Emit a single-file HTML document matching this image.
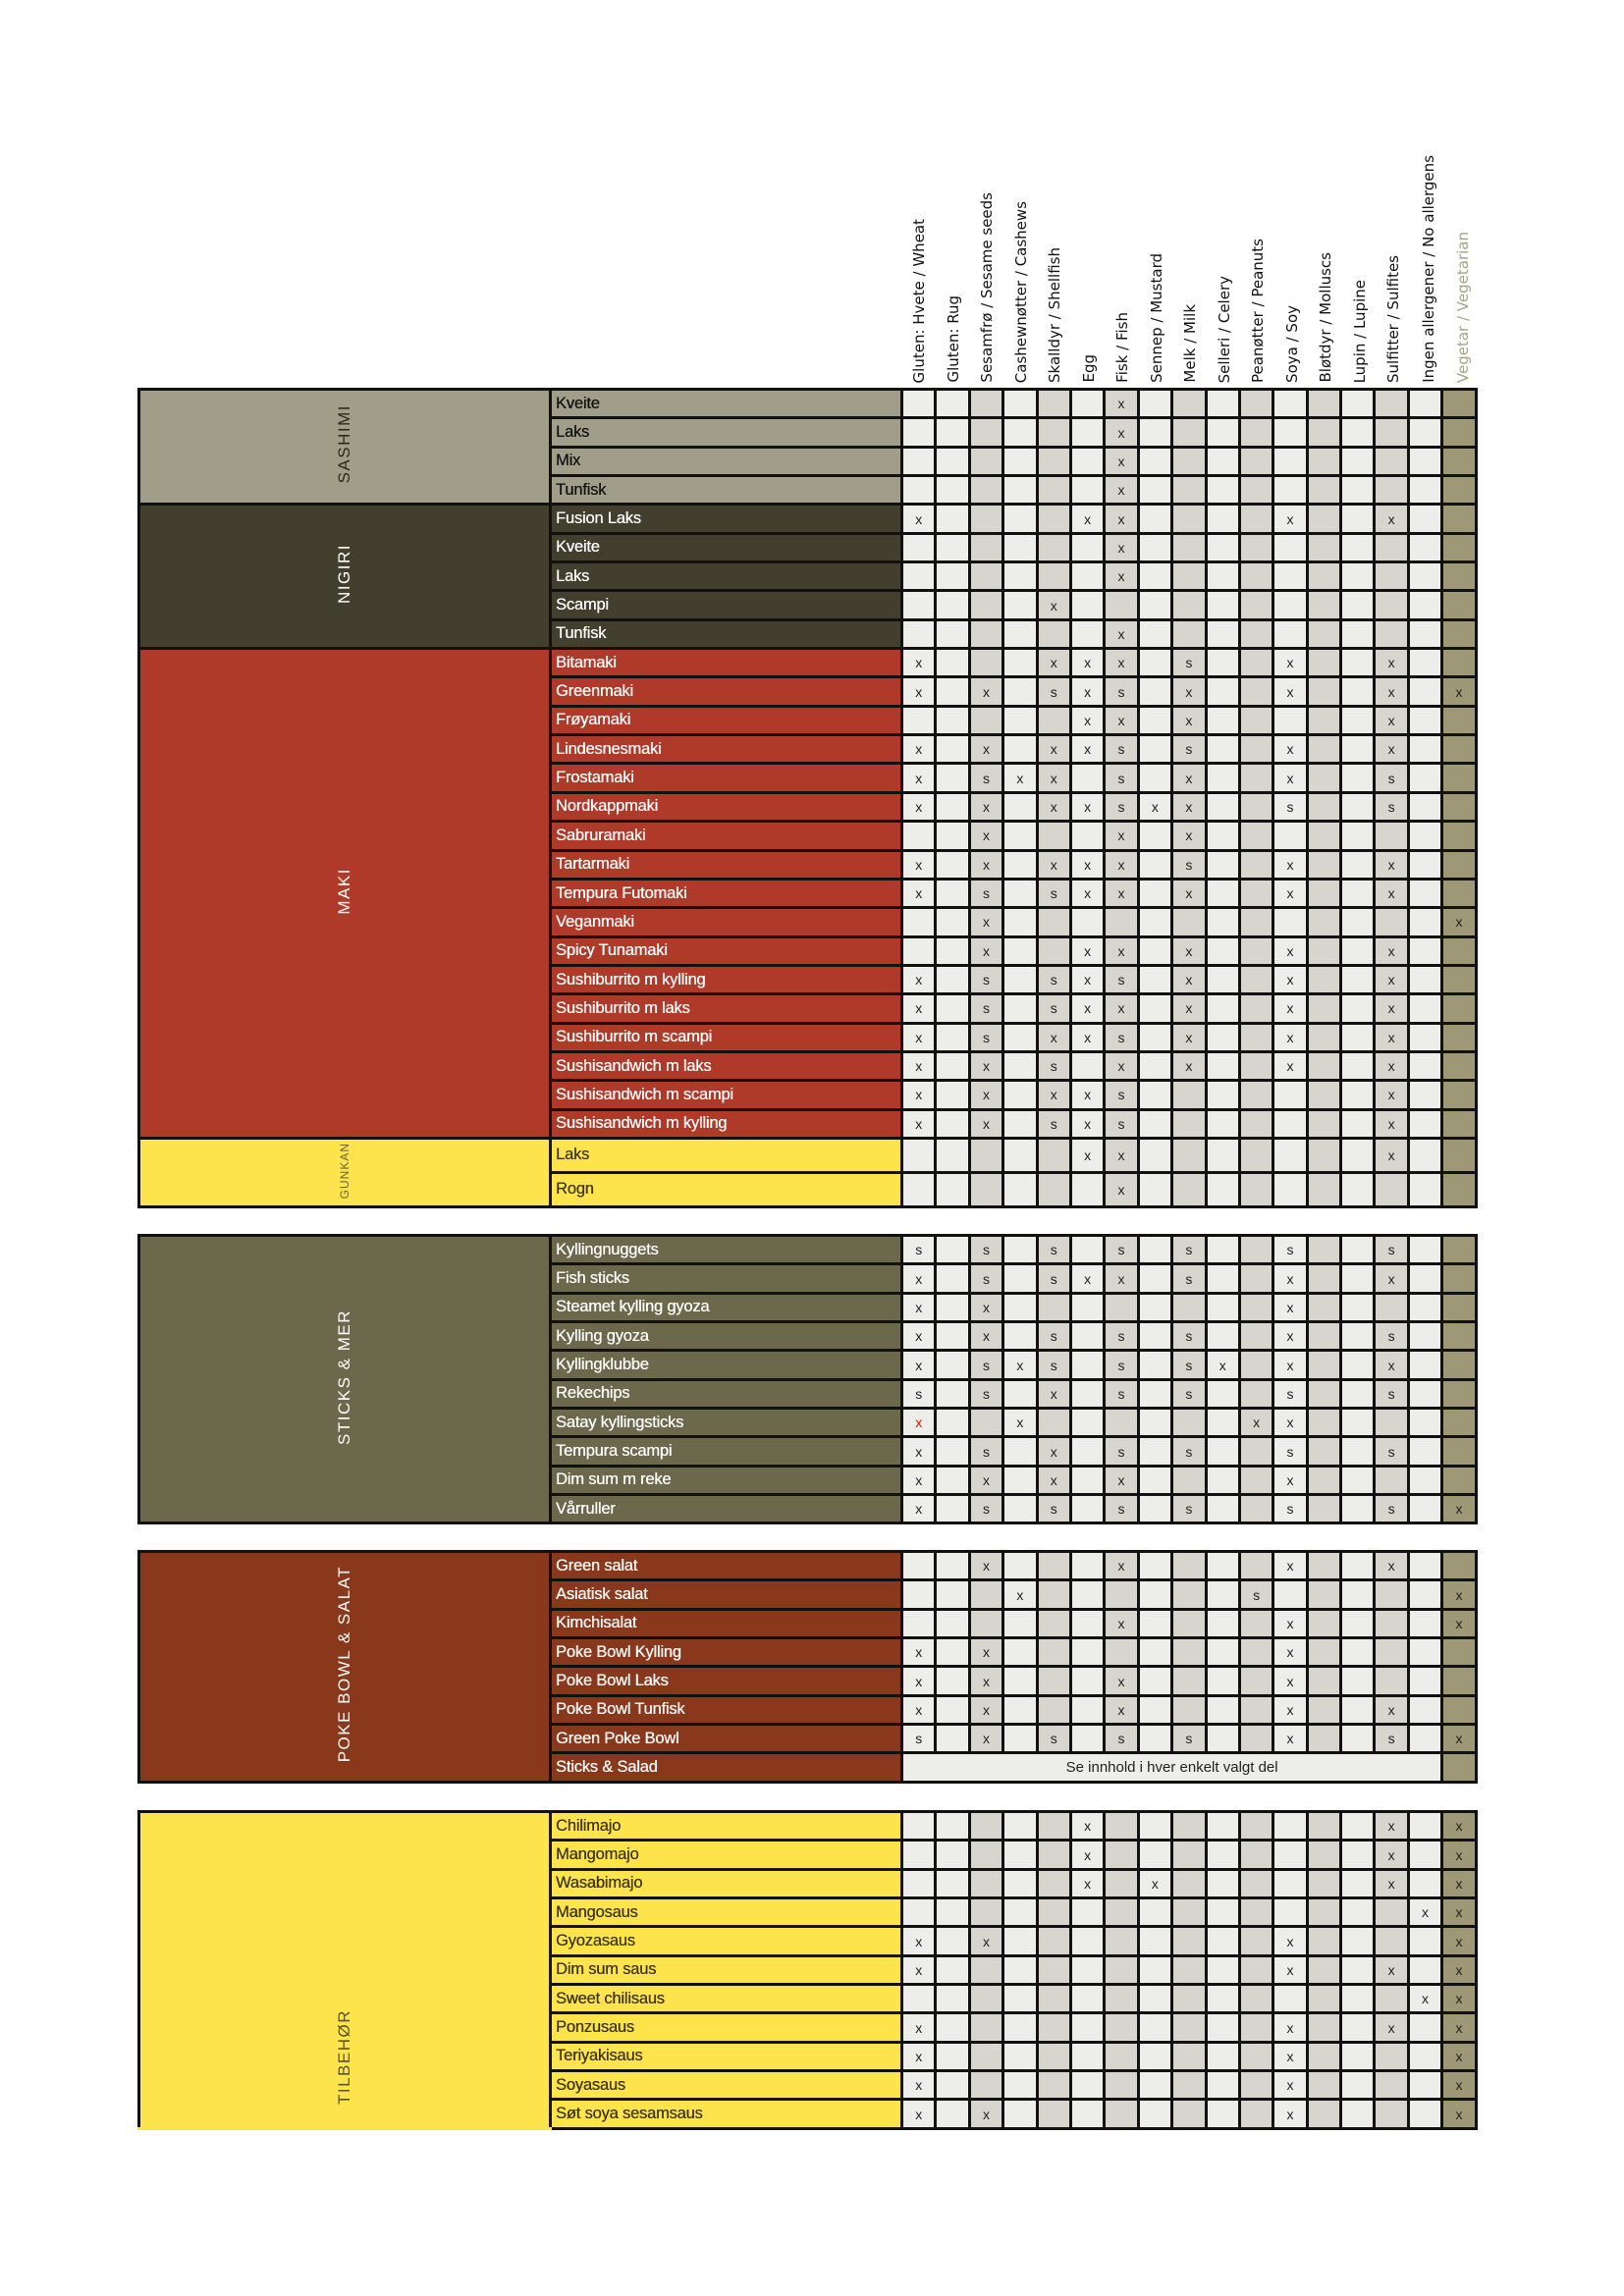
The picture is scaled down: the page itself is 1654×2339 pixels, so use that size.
<!DOCTYPE html>
<html><head><meta charset="utf-8"><style>
html,body{margin:0;padding:0;background:#fff;width:1654px;height:2339px;overflow:hidden;position:relative;font-family:"Liberation Sans",sans-serif}
table{position:absolute;left:140px;width:1361px;border-collapse:collapse;table-layout:fixed;border:3px solid #111}
td{border:3px solid #111;padding:0;text-align:center;font-size:14px;color:#222;overflow:hidden;white-space:nowrap}
tr{height:29.35px}
tr.g{height:35px}
col.l{background:#ededea}col.d{background:#d7d5cd}col.v{background:#9e9876}
td.n{text-align:left;padding-left:4px;font-size:16.5px;letter-spacing:-0.2px;color:#fff;text-shadow:0.3px 0 0 currentColor}
td.c{vertical-align:middle;color:#fff;font-size:17px;letter-spacing:1.5px}
td.c span{writing-mode:vertical-rl;transform:rotate(180deg);display:inline-block}
.sa{background:#a09d89}.ni{background:#433f2f}.ma{background:#b03a29}.gu{background:#fee44c}.st{background:#6b684b}.po{background:#8a381c}.ti{background:#fee44c}
td.n.gu,td.n.ti{color:#3b3512}
.h{position:absolute;bottom:1949px;writing-mode:vertical-rl;transform:rotate(180deg);font-family:"DejaVu Sans",sans-serif;font-size:15px;color:#111;white-space:nowrap}
.r{color:#e01010}
</style></head><body>
<div class="h" style="left:927px">Gluten: Hvete / Wheat</div>
<div class="h" style="left:962px">Gluten: Rug</div>
<div class="h" style="left:996px">Sesamfrø / Sesame seeds</div>
<div class="h" style="left:1031px">Cashewnøtter / Cashews</div>
<div class="h" style="left:1065px">Skalldyr / Shellfish</div>
<div class="h" style="left:1100px">Egg</div>
<div class="h" style="left:1134px">Fisk / Fish</div>
<div class="h" style="left:1169px">Sennep / Mustard</div>
<div class="h" style="left:1203px">Melk / Milk</div>
<div class="h" style="left:1238px">Selleri / Celery</div>
<div class="h" style="left:1272px">Peanøtter / Peanuts</div>
<div class="h" style="left:1307px">Soya / Soy</div>
<div class="h" style="left:1341px">Bløtdyr / Molluscs</div>
<div class="h" style="left:1376px">Lupin / Lupine</div>
<div class="h" style="left:1410px">Sulfitter / Sulfites</div>
<div class="h" style="left:1446px">Ingen allergener / No allergens</div>
<div class="h" style="left:1481px;color:#a8a285">Vegetar / Vegetarian</div>

<table style="top:395px">
<colgroup><col style="width:419px"><col style="width:358px"><col class="l" style="width:34.4px"><col class="l" style="width:34.4px"><col class="d" style="width:34.4px"><col class="l" style="width:34.4px"><col class="d" style="width:34.4px"><col class="l" style="width:34.4px"><col class="d" style="width:34.4px"><col class="l" style="width:34.4px"><col class="d" style="width:34.4px"><col class="l" style="width:34.4px"><col class="d" style="width:34.4px"><col class="l" style="width:34.4px"><col class="d" style="width:34.4px"><col class="l" style="width:34.4px"><col class="d" style="width:34.4px"><col class="l" style="width:34.4px"><col class="v" style="width:34.4px"></colgroup>
<tr><td class="c sa" rowspan="4" style="color:#2a2a20"><span>SASHIMI</span></td><td class="n sa" style="color:#111">Kveite<td><td><td><td><td><td><td>x<td><td><td><td><td><td><td><td><td><td></tr>
<tr><td class="n sa" style="color:#111">Laks<td><td><td><td><td><td><td>x<td><td><td><td><td><td><td><td><td><td></tr>
<tr><td class="n sa" style="color:#111">Mix<td><td><td><td><td><td><td>x<td><td><td><td><td><td><td><td><td><td></tr>
<tr><td class="n sa" style="color:#111">Tunfisk<td><td><td><td><td><td><td>x<td><td><td><td><td><td><td><td><td><td></tr>
<tr><td class="c ni" rowspan="5"><span>NIGIRI</span></td><td class="n ni">Fusion Laks<td>x<td><td><td><td><td>x<td>x<td><td><td><td><td>x<td><td><td>x<td><td></tr>
<tr><td class="n ni">Kveite<td><td><td><td><td><td><td>x<td><td><td><td><td><td><td><td><td><td></tr>
<tr><td class="n ni">Laks<td><td><td><td><td><td><td>x<td><td><td><td><td><td><td><td><td><td></tr>
<tr><td class="n ni">Scampi<td><td><td><td><td>x<td><td><td><td><td><td><td><td><td><td><td><td></tr>
<tr><td class="n ni">Tunfisk<td><td><td><td><td><td><td>x<td><td><td><td><td><td><td><td><td><td></tr>
<tr><td class="c ma" rowspan="17"><span>MAKI</span></td><td class="n ma">Bitamaki<td>x<td><td><td><td>x<td>x<td>x<td><td>s<td><td><td>x<td><td><td>x<td><td></tr>
<tr><td class="n ma">Greenmaki<td>x<td><td>x<td><td>s<td>x<td>s<td><td>x<td><td><td>x<td><td><td>x<td><td>x</tr>
<tr><td class="n ma">Frøyamaki<td><td><td><td><td><td>x<td>x<td><td>x<td><td><td><td><td><td>x<td><td></tr>
<tr><td class="n ma">Lindesnesmaki<td>x<td><td>x<td><td>x<td>x<td>s<td><td>s<td><td><td>x<td><td><td>x<td><td></tr>
<tr><td class="n ma">Frostamaki<td>x<td><td>s<td>x<td>x<td><td>s<td><td>x<td><td><td>x<td><td><td>s<td><td></tr>
<tr><td class="n ma">Nordkappmaki<td>x<td><td>x<td><td>x<td>x<td>s<td>x<td>x<td><td><td>s<td><td><td>s<td><td></tr>
<tr><td class="n ma">Sabruramaki<td><td><td>x<td><td><td><td>x<td><td>x<td><td><td><td><td><td><td><td></tr>
<tr><td class="n ma">Tartarmaki<td>x<td><td>x<td><td>x<td>x<td>x<td><td>s<td><td><td>x<td><td><td>x<td><td></tr>
<tr><td class="n ma">Tempura Futomaki<td>x<td><td>s<td><td>s<td>x<td>x<td><td>x<td><td><td>x<td><td><td>x<td><td></tr>
<tr><td class="n ma">Veganmaki<td><td><td>x<td><td><td><td><td><td><td><td><td><td><td><td><td><td>x</tr>
<tr><td class="n ma">Spicy Tunamaki<td><td><td>x<td><td><td>x<td>x<td><td>x<td><td><td>x<td><td><td>x<td><td></tr>
<tr><td class="n ma">Sushiburrito m kylling<td>x<td><td>s<td><td>s<td>x<td>s<td><td>x<td><td><td>x<td><td><td>x<td><td></tr>
<tr><td class="n ma">Sushiburrito m laks<td>x<td><td>s<td><td>s<td>x<td>x<td><td>x<td><td><td>x<td><td><td>x<td><td></tr>
<tr><td class="n ma">Sushiburrito m scampi<td>x<td><td>s<td><td>x<td>x<td>s<td><td>x<td><td><td>x<td><td><td>x<td><td></tr>
<tr><td class="n ma">Sushisandwich m laks<td>x<td><td>x<td><td>s<td><td>x<td><td>x<td><td><td>x<td><td><td>x<td><td></tr>
<tr><td class="n ma">Sushisandwich m scampi<td>x<td><td>x<td><td>x<td>x<td>s<td><td><td><td><td><td><td><td>x<td><td></tr>
<tr><td class="n ma">Sushisandwich m kylling<td>x<td><td>x<td><td>s<td>x<td>s<td><td><td><td><td><td><td><td>x<td><td></tr>
<tr class="g"><td class="c gu" rowspan="2" style="color:#6b6535;font-size:12px;letter-spacing:1px"><span>GUNKAN</span></td><td class="n gu">Laks<td><td><td><td><td><td>x<td>x<td><td><td><td><td><td><td><td>x<td><td></tr>
<tr class="g"><td class="n gu">Rogn<td><td><td><td><td><td><td>x<td><td><td><td><td><td><td><td><td><td></tr>
</table>

<table style="top:1257px">
<colgroup><col style="width:419px"><col style="width:358px"><col class="l" style="width:34.4px"><col class="l" style="width:34.4px"><col class="d" style="width:34.4px"><col class="l" style="width:34.4px"><col class="d" style="width:34.4px"><col class="l" style="width:34.4px"><col class="d" style="width:34.4px"><col class="l" style="width:34.4px"><col class="d" style="width:34.4px"><col class="l" style="width:34.4px"><col class="d" style="width:34.4px"><col class="l" style="width:34.4px"><col class="d" style="width:34.4px"><col class="l" style="width:34.4px"><col class="d" style="width:34.4px"><col class="l" style="width:34.4px"><col class="v" style="width:34.4px"></colgroup>
<tr><td class="c st" rowspan="10"><span>STICKS &amp; MER</span></td><td class="n st">Kyllingnuggets<td>s<td><td>s<td><td>s<td><td>s<td><td>s<td><td><td>s<td><td><td>s<td><td></tr>
<tr><td class="n st">Fish sticks<td>x<td><td>s<td><td>s<td>x<td>x<td><td>s<td><td><td>x<td><td><td>x<td><td></tr>
<tr><td class="n st">Steamet kylling gyoza<td>x<td><td>x<td><td><td><td><td><td><td><td><td>x<td><td><td><td><td></tr>
<tr><td class="n st">Kylling gyoza<td>x<td><td>x<td><td>s<td><td>s<td><td>s<td><td><td>x<td><td><td>s<td><td></tr>
<tr><td class="n st">Kyllingklubbe<td>x<td><td>s<td>x<td>s<td><td>s<td><td>s<td>x<td><td>x<td><td><td>x<td><td></tr>
<tr><td class="n st">Rekechips<td>s<td><td>s<td><td>x<td><td>s<td><td>s<td><td><td>s<td><td><td>s<td><td></tr>
<tr><td class="n st">Satay kyllingsticks<td class="r">x<td><td><td>x<td><td><td><td><td><td><td>x<td>x<td><td><td><td><td></tr>
<tr><td class="n st">Tempura scampi<td>x<td><td>s<td><td>x<td><td>s<td><td>s<td><td><td>s<td><td><td>s<td><td></tr>
<tr><td class="n st">Dim sum m reke<td>x<td><td>x<td><td>x<td><td>x<td><td><td><td><td>x<td><td><td><td><td></tr>
<tr><td class="n st">Vårruller<td>x<td><td>s<td><td>s<td><td>s<td><td>s<td><td><td>s<td><td><td>s<td><td>x</tr>
</table>

<table style="top:1579px">
<colgroup><col style="width:419px"><col style="width:358px"><col class="l" style="width:34.4px"><col class="l" style="width:34.4px"><col class="d" style="width:34.4px"><col class="l" style="width:34.4px"><col class="d" style="width:34.4px"><col class="l" style="width:34.4px"><col class="d" style="width:34.4px"><col class="l" style="width:34.4px"><col class="d" style="width:34.4px"><col class="l" style="width:34.4px"><col class="d" style="width:34.4px"><col class="l" style="width:34.4px"><col class="d" style="width:34.4px"><col class="l" style="width:34.4px"><col class="d" style="width:34.4px"><col class="l" style="width:34.4px"><col class="v" style="width:34.4px"></colgroup>
<tr><td class="c po" rowspan="8"><span>POKE BOWL &amp; SALAT</span></td><td class="n po">Green salat<td><td><td>x<td><td><td><td>x<td><td><td><td><td>x<td><td><td>x<td><td></tr>
<tr><td class="n po">Asiatisk salat<td><td><td><td>x<td><td><td><td><td><td><td>s<td><td><td><td><td><td>x</tr>
<tr><td class="n po">Kimchisalat<td><td><td><td><td><td><td>x<td><td><td><td><td>x<td><td><td><td><td>x</tr>
<tr><td class="n po">Poke Bowl Kylling<td>x<td><td>x<td><td><td><td><td><td><td><td><td>x<td><td><td><td><td></tr>
<tr><td class="n po">Poke Bowl Laks<td>x<td><td>x<td><td><td><td>x<td><td><td><td><td>x<td><td><td><td><td></tr>
<tr><td class="n po">Poke Bowl Tunfisk<td>x<td><td>x<td><td><td><td>x<td><td><td><td><td>x<td><td><td>x<td><td></tr>
<tr><td class="n po">Green Poke Bowl<td>s<td><td>x<td><td>s<td><td>s<td><td>s<td><td><td>x<td><td><td>s<td><td>x</tr>
<tr><td class="n po">Sticks &amp; Salad<td colspan="16" style="background:#ededea;font-size:15px">Se innhold i hver enkelt valgt del<td></tr>
</table>

<table style="top:1844px">
<colgroup><col style="width:419px"><col style="width:358px"><col class="l" style="width:34.4px"><col class="l" style="width:34.4px"><col class="d" style="width:34.4px"><col class="l" style="width:34.4px"><col class="d" style="width:34.4px"><col class="l" style="width:34.4px"><col class="d" style="width:34.4px"><col class="l" style="width:34.4px"><col class="d" style="width:34.4px"><col class="l" style="width:34.4px"><col class="d" style="width:34.4px"><col class="l" style="width:34.4px"><col class="d" style="width:34.4px"><col class="l" style="width:34.4px"><col class="d" style="width:34.4px"><col class="l" style="width:34.4px"><col class="v" style="width:34.4px"></colgroup>
<tr><td class="c ti" rowspan="11" style="vertical-align:bottom;padding-bottom:18px;color:#5a5330;border-bottom-color:#fee44c"><span>TILBEHØR</span></td><td class="n ti">Chilimajo<td><td><td><td><td><td>x<td><td><td><td><td><td><td><td><td>x<td><td>x</tr>
<tr><td class="n ti">Mangomajo<td><td><td><td><td><td>x<td><td><td><td><td><td><td><td><td>x<td><td>x</tr>
<tr><td class="n ti">Wasabimajo<td><td><td><td><td><td>x<td><td>x<td><td><td><td><td><td><td>x<td><td>x</tr>
<tr><td class="n ti">Mangosaus<td><td><td><td><td><td><td><td><td><td><td><td><td><td><td><td>x<td>x</tr>
<tr><td class="n ti">Gyozasaus<td>x<td><td>x<td><td><td><td><td><td><td><td><td>x<td><td><td><td><td>x</tr>
<tr><td class="n ti">Dim sum saus<td>x<td><td><td><td><td><td><td><td><td><td><td>x<td><td><td>x<td><td>x</tr>
<tr><td class="n ti">Sweet chilisaus<td><td><td><td><td><td><td><td><td><td><td><td><td><td><td><td>x<td>x</tr>
<tr><td class="n ti">Ponzusaus<td>x<td><td><td><td><td><td><td><td><td><td><td>x<td><td><td>x<td><td>x</tr>
<tr><td class="n ti">Teriyakisaus<td>x<td><td><td><td><td><td><td><td><td><td><td>x<td><td><td><td><td>x</tr>
<tr><td class="n ti">Soyasaus<td>x<td><td><td><td><td><td><td><td><td><td><td>x<td><td><td><td><td>x</tr>
<tr><td class="n ti">Søt soya sesamsaus<td>x<td><td>x<td><td><td><td><td><td><td><td><td>x<td><td><td><td><td>x</tr>
</table>
</body></html>
